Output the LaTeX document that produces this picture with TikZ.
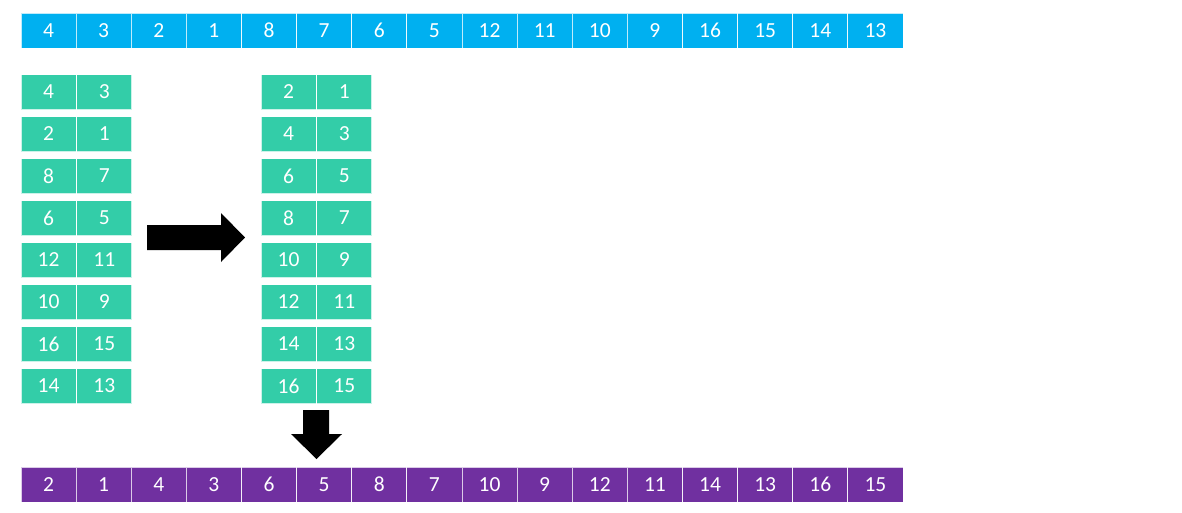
\documentclass[tikz,border=0pt]{standalone}
\usepackage{fontspec}
\setmainfont{Carlito}
\usetikzlibrary{positioning}
\definecolor{rowblue}{RGB}{0,176,240}
\definecolor{pairgreen}{RGB}{51,205,168}
\definecolor{rowpurple}{RGB}{112,48,160}

\begin{document}
\begin{tikzpicture}[
			x=1pt, y=-1pt,
			cell/.style={rectangle, draw=white, draw opacity=0.75, line width=0.8pt, minimum width=55pt, minimum height=35pt, inner sep=0pt, text=white, font=\fontsize{21.5}{26}\selectfont},
			topcell/.style={cell, fill=rowblue, minimum width=55.125pt},
			paircell/.style={cell, fill=pairgreen},
			outcell/.style={cell, fill=rowpurple, minimum width=55.125pt},
			bigarrow/.style={fill=black}
			]
			\useasboundingbox (0,0) rectangle (1182,512);
			\foreach \v [count=\i] in {4,3,2,1,8,7,6,5,12,11,10,9,16,15,14,13}
				\node[topcell] (top\i) at ({21+55.125*(\i-0.5)},30.5) {\v};
			\foreach \a/\b [count=\i] in {4/3,2/1,8/7,6/5,12/11,10/9,16/15,14/13} {
				\node[paircell] (inA\i) at (48.5,{50+42*\i}) {\a};
				\node[paircell, right=0pt of inA\i] (inB\i) {\b};
			}
			\foreach \a/\b [count=\i] in {2/1,4/3,6/5,8/7,10/9,12/11,14/13,16/15} {
				\node[paircell] (sortA\i) at (288.5,{50+42*\i}) {\a};
				\node[paircell, right=0pt of sortA\i] (sortB\i) {\b};
			}
			\foreach \v [count=\i] in {2,1,4,3,6,5,8,7,10,9,12,11,14,13,16,15}
				\node[outcell] (out\i) at ({21+55.125*(\i-0.5)},484.5) {\v};
			\fill[bigarrow] (147,225) -- (221,225) -- (221,213) -- (245,237.5) -- (221,262) -- (221,250) -- (147,250) -- cycle;
			\fill[bigarrow] (303,410) -- (329,410) -- (329,434) -- (342,434) -- (316.5,459) -- (291,434) -- (303,434) -- cycle;
		\end{tikzpicture}
\end{document}
